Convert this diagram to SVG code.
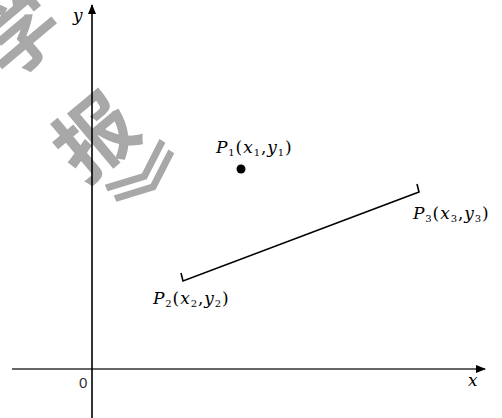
<svg xmlns="http://www.w3.org/2000/svg" width="502" height="418" viewBox="0 0 502 418">
<style>
text.lbl{font-family:'DejaVu Serif','Liberation Serif',serif;font-size:17px;fill:#000;letter-spacing:0.9px}
.i{font-style:italic}
.s{font-size:10px}
.wm{font-family:'Noto Sans CJK SC','Noto Sans CJK JP',sans-serif;font-size:80px;font-weight:700;fill:#a8a8a8;text-anchor:middle;dominant-baseline:central}
.ax{stroke-width:1.6;fill:none}
.seg{stroke:#000;stroke-width:1.6;fill:none}
</style>
<defs>
<marker id="ah" markerWidth="10" markerHeight="10" refX="9" refY="5" orient="auto" markerUnits="userSpaceOnUse">
<path d="M0,1 L10,5 L0,9 Z" fill="#000"/>
</marker>
</defs>
<g id="watermark">
<text class="wm" transform="translate(16,30) rotate(-40)">学</text>
<text class="wm" transform="translate(92,132) rotate(-40)">报</text>
<text class="wm" transform="translate(160,188) rotate(50)">》</text>
</g>
<g id="connectors">
<line class="ax" x1="12" y1="369" x2="485" y2="369" stroke="#333" marker-end="url(#ah)"/>
<line class="ax" x1="92" y1="418" x2="92" y2="5" stroke="#000" marker-end="url(#ah)"/>
</g>
<g id="axis-labels">
<text x="79" y="388" font-family="Liberation Sans, sans-serif" font-size="15" fill="#333">0</text>
<text x="468" y="386" class="lbl i">x</text>
<text x="73" y="21" class="lbl i">y</text>
</g>
<g id="P1">
<circle cx="241" cy="169" r="4.5" fill="#000"/>
<text x="216" y="153" class="lbl"><tspan class="i">P</tspan><tspan class="s" dy="3">1</tspan><tspan dy="-3">(</tspan><tspan class="i">x</tspan><tspan class="s" dy="3">1</tspan><tspan dy="-3">,</tspan><tspan class="i">y</tspan><tspan class="s" dy="3">1</tspan><tspan dy="-3">)</tspan></text>
</g>
<g id="segment">
<polyline class="seg" points="181,273 183,281 419,192 417,184"/>
</g>
<g id="P2">
<text x="153" y="304" class="lbl"><tspan class="i">P</tspan><tspan class="s" dy="3">2</tspan><tspan dy="-3">(</tspan><tspan class="i">x</tspan><tspan class="s" dy="3">2</tspan><tspan dy="-3">,</tspan><tspan class="i">y</tspan><tspan class="s" dy="3">2</tspan><tspan dy="-3">)</tspan></text>
</g>
<g id="P3">
<text x="413" y="219" class="lbl"><tspan class="i">P</tspan><tspan class="s" dy="3">3</tspan><tspan dy="-3">(</tspan><tspan class="i">x</tspan><tspan class="s" dy="3">3</tspan><tspan dy="-3">,</tspan><tspan class="i">y</tspan><tspan class="s" dy="3">3</tspan><tspan dy="-3">)</tspan></text>
</g>
</svg>
